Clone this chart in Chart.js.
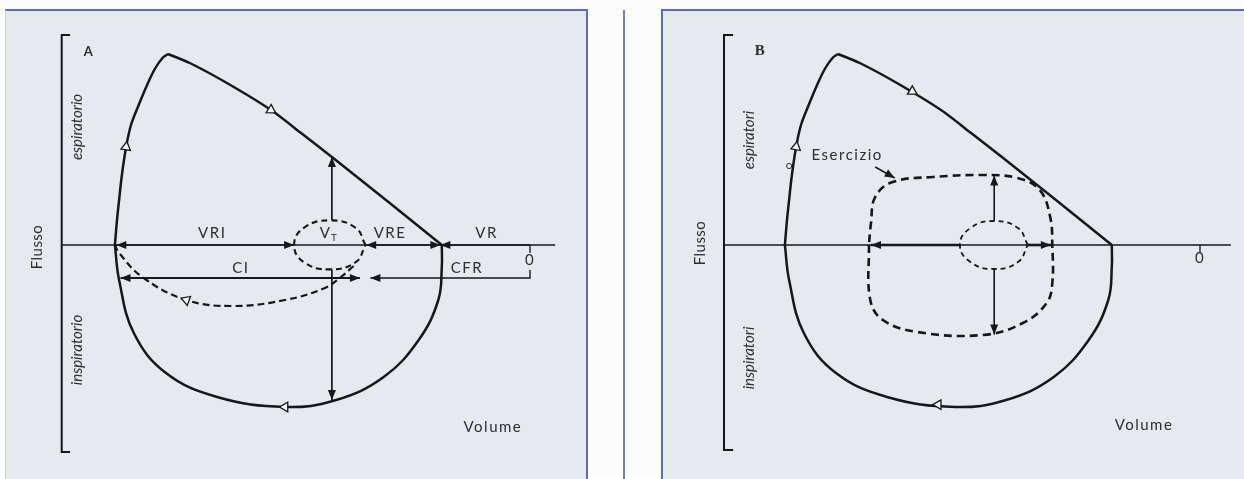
<!DOCTYPE html>
<html>
<head>
<meta charset="utf-8">
<script src="https://cdn.jsdelivr.net/npm/chart.js@4.4.1/dist/chart.umd.min.js"></script>
<style>
  body { margin: 0; width: 1244px; height: 479px; overflow: hidden; background: #fcfcfd; position: relative; }
  .frame { position: absolute; top: 9px; height: 480px; background: #e6e9ee; border-top: 2px solid #5d6db0; }
  #frameA { left: 5px; width: 580px; border-right: 2px solid #5d6db0; border-left: 1px solid #c8cede; }
  #frameB { left: 661px; width: 590px; border-left: 2px solid #5d6db0; }
  #gutter { position: absolute; left: 623px; top: 10px; width: 2px; height: 469px; background: #7482bc; }
  canvas { position: absolute; top: 0; }
  #chartA { left: 5px; }
  #chartB { left: 675px; }
</style>
</head>
<body>
<div class="frame" id="frameA"></div>
<div id="gutter"></div>
<div class="frame" id="frameB"></div>
<canvas id="chartA" width="616" height="479"></canvas>
<canvas id="chartB" width="567" height="479"></canvas>
<script>
// flow-volume loop (volume in L, 0 at the right; flow in L/s, expiration up)
const riseVol  = [5.93, 5.90, 5.87, 5.83, 5.77, 5.70, 5.59, 5.47, 5.36, 5.25, 5.17];
const riseFlow = [0, 1.25, 2.25, 3.5, 4.9, 6.0, 7.0, 8.0, 8.8, 9.35, 9.55];
const fallVol  = [5.17, 4.86, 4.33, 3.70, 3.27, 2.83, 2.04, 1.26];
const fallFlow = [9.55, 9.1, 8.1, 6.75, 5.6, 4.4, 2.2, 0];
const inspVol  = [1.26, 1.26, 1.31, 1.59, 2.09, 2.77, 3.50, 4.47, 5.20, 5.66, 5.87, 5.93];
const inspFlow = [0, -1.1, -2.75, -4.75, -6.6, -7.75, -8.1, -7.6, -6.4, -4.4, -1.75, 0];

// panel A: tidal loop and inspiratory capacity manoeuvre
const tidalVolA  = [2.35, 2.49, 2.86, 3.23, 3.37, 3.23, 2.86, 2.49, 2.35];
const tidalFlowA = [0, 0.86, 1.23, 0.86, 0, -0.86, -1.22, -0.86, 0];
const icVol  = [2.52, 2.70, 2.93, 3.50, 4.24, 4.91, 5.54, 5.87, 5.93];
const icFlow = [-1.05, -1.6, -2.15, -2.75, -3.05, -2.75, -1.6, -0.4, 0];

// panel B: rest and exercise loops
const tidalVolB  = [2.46, 2.60, 2.94, 3.28, 3.43, 3.28, 2.94, 2.60, 2.46];
const tidalFlowB = [0, 0.85, 1.2, 0.85, 0, -0.85, -1.2, -0.85, 0];
const exVol  = [4.73, 4.71, 4.53, 4.04, 3.10, 2.53, 2.19, 2.11, 2.11, 2.14, 2.29, 2.61, 3.10, 3.81, 4.39, 4.64, 4.70, 4.73];
const exFlow = [0, -2.75, -3.75, -4.35, -4.5, -3.9, -2.9, -1.9, 0, 1.4, 2.75, 3.35, 3.5, 3.4, 3.15, 2.4, 1.1, 0];

// dimension arrows: volumes / flows along each arrow, and where the heads go
const dimVolA  = [[3.37, 5.91], [2.34, 1.28], [1.28, 0], [5.85, 2.43], [2.28, 0, 0], [2.83, 2.83], [2.83, 2.83]];
const dimFlowA = [[0, 0], [0, 0], [0, 0], [-1.65, -1.65], [-1.65, -1.65, -1.25], [1.25, 4.4], [-1.22, -7.75]];
const dimHeadA = ['both', 'both', 'start', 'both', 'start', 'end', 'end'];
const dimVolB  = [[3.43, 4.70], [2.46, 2.13], [2.94, 2.94], [2.94, 2.94], [4.64, 4.36]];
const dimFlowB = [[0, 0], [0, 0], [1.2, 3.47], [-1.2, -4.47], [3.9, 3.35]];
const dimHeadB = ['end', 'end', 'end', 'end', 'end'];

// direction markers (open triangles)
const markVolA  = [5.77, 3.70, 3.50, 4.91];
const markFlowA = [4.9, 6.75, -8.1, -2.75];
const markRotA  = [8, 122, 270, 290];
const markVolB  = [5.77, 4.11, 3.74];
const markFlowB = [4.9, 7.68, -7.98];
const markRotB  = [10, 120, 270];

// axis frame: bracket on the left, volume axis, zero tick
const bracketVolA  = [6.57, 6.69, 6.69, 6.57];
const bracketFlowA = [10.5, 10.5, -10.35, -10.35];
const axisVolA = [6.69, -0.36];
const bracketVolB  = [6.67, 6.80, 6.80, 6.67];
const bracketFlowB = [10.5, 10.5, -10.25, -10.25];
const axisVolB = [6.80, -0.44];

// labels
const labelTextA = ['VRI', 'VRE', 'VR', 'CI', 'CFR', '0', 'Volume'];
const labelVolA  = [4.54, 2.0, 0.62, 4.13, 0.9, 0, 0.53];
const labelFlowA = [0.6, 0.6, 0.6, -1.15, -1.15, -0.75, -9.1];
const sideTextA = ['espiratorio', 'Flusso', 'inspiratorio'];
const sideVolA  = [6.47, 7.04, 6.47];
const sideFlowA = [5.9, -0.1, -5.25];
const labelTextB = ['Esercizio', '0', 'Volume'];
const labelVolB  = [5.04, 0, 0.8];
const labelFlowB = [4.5, -0.65, -9.0];
const sideTextB = ['espiratori', 'Flusso', 'inspiratori'];
const sideVolB  = [6.44, 7.14, 6.44];
const sideFlowB = [5.25, 0.1, -5.65];

const INK = '#171717';
const TEXT = '#2e2e2e';

const xy = (vols, flows) => vols.map((v, i) => ({x: v, y: flows[i]}));
const line = (vols, flows, extra) => Object.assign({
  data: xy(vols, flows), showLine: true, borderColor: INK, borderWidth: 2.5,
  pointRadius: 0, tension: 0, fill: false
}, extra);

const arrowHeads = {
  id: 'arrowHeads',
  afterDatasetsDraw(chart) {
    const ctx = chart.ctx;
    chart.data.datasets.forEach((ds, i) => {
      if (!ds.heads) return;
      const pts = chart.getDatasetMeta(i).data;
      const n = pts.length;
      const tips = [];
      if (ds.heads !== 'end') tips.push([pts[0], pts[1]]);
      if (ds.heads !== 'start') tips.push([pts[n - 1], pts[n - 2]]);
      tips.forEach(([tip, from]) => {
        const a = Math.atan2(tip.y - from.y, tip.x - from.x);
        ctx.save();
        ctx.translate(tip.x, tip.y);
        ctx.rotate(a);
        ctx.beginPath();
        ctx.moveTo(0, 0);
        ctx.lineTo(-10, -4);
        ctx.lineTo(-10, 4);
        ctx.closePath();
        ctx.fillStyle = INK;
        ctx.fill();
        ctx.restore();
      });
    });
  }
};

function textPlugin(items) {
  return {
    id: 'figText',
    afterDatasetsDraw(chart) {
      const {ctx} = chart;
      const sx = chart.scales.x, sy = chart.scales.y;
      items.forEach(it => {
        ctx.save();
        ctx.translate(sx.getPixelForValue(it.v), sy.getPixelForValue(it.f));
        if (it.rot) ctx.rotate(-Math.PI / 2);
        ctx.font = it.font;
        ctx.letterSpacing = it.spacing || '0px';
        ctx.fillStyle = TEXT;
        ctx.textAlign = 'center';
        ctx.textBaseline = 'middle';
        ctx.fillText(it.text, 0, 0);
        if (it.sub) {
          ctx.font = '10px Lato';
          ctx.fillText(it.sub, 9, 5);
        }
        ctx.restore();
      });
    }
  };
}

function textItems(texts, vols, flows, side, letter, letterVol, letterFlow, letterFont) {
  const items = texts.map((t, i) => ({text: t, v: vols[i], f: flows[i], font: '15px Lato', spacing: '1.5px'}));
  side.texts.forEach((t, i) => items.push({
    text: t, v: side.vols[i], f: side.flows[i], rot: true,
    font: t === 'Flusso' ? '15px Lato' : 'italic 15px Lato', spacing: t === 'Flusso' ? '0.5px' : '0px'
  }));
  items.push({text: letter, v: letterVol, f: letterFlow, font: letterFont});
  return items;
}

function dimSets(vols, flows, heads, widths) {
  return vols.map((v, i) => line(v, flows[i], {heads: heads[i], borderWidth: widths[i]}));
}

function makeChart(id, xmin, sets, items) {
  return new Chart(document.getElementById(id), {
    type: 'scatter',
    data: {datasets: sets},
    options: {
      responsive: false,
      animation: false,
      events: [],
      layout: {padding: 0, autoPadding: false},
      scales: {
        x: {type: 'linear', min: xmin, max: 7.5, reverse: true, display: false},
        y: {type: 'linear', min: -11.7, max: 12.25, display: false}
      },
      plugins: {legend: {display: false}, tooltip: {enabled: false}}
    },
    plugins: [arrowHeads, textPlugin(items)]
  });
}

const markerSet = (vols, flows, rots) => ({
  data: xy(vols, flows), showLine: false, pointStyle: 'triangle', pointRadius: 5.5,
  pointRotation: rots, pointBackgroundColor: '#ffffff', pointBorderColor: INK, pointBorderWidth: 1.3
});

const loopSets = () => [
  line(riseVol, riseFlow, {tension: 0.35}),
  line(fallVol, fallFlow, {tension: 0.25}),
  line(inspVol, inspFlow, {tension: 0.4})
];

const itemsA = textItems(labelTextA, labelVolA, labelFlowA,
  {texts: sideTextA, vols: sideVolA, flows: sideFlowA}, 'A', 6.31, 9.65, 'bold 13px Lato');
itemsA.push({text: 'V', sub: 'T', v: 2.93, f: 0.6, font: '15px Lato'});

makeChart('chartA', -1.3, [
  markerSet(markVolA, markFlowA, markRotA),
  ...loopSets(),
  line(tidalVolA, tidalFlowA, {tension: 0.45, borderWidth: 2.1, borderDash: [6, 4]}),
  line(icVol, icFlow, {tension: 0.4, borderWidth: 2.2, borderDash: [7, 4]}),
  ...dimSets(dimVolA, dimFlowA, dimHeadA, [1.5, 1.5, 1.5, 1.8, 1.4, 1.7, 1.7]),
  line(bracketVolA, bracketFlowA, {borderWidth: 2}),
  line(axisVolA, [0, 0], {borderWidth: 1.3}),
  line([0, 0], [0, -0.4], {borderWidth: 1.3})
], itemsA);

const itemsB = textItems(labelTextB, labelVolB, labelFlowB,
  {texts: sideTextB, vols: sideVolB, flows: sideFlowB}, 'B', 6.29, 9.7, 'bold 15px "Liberation Serif"');

makeChart('chartB', -0.6, [
  markerSet(markVolB, markFlowB, markRotB),
  {data: xy([5.87], [3.95]), showLine: false, pointStyle: 'circle', pointRadius: 2.6,
   pointBackgroundColor: 'rgba(0,0,0,0)', pointBorderColor: TEXT, pointBorderWidth: 1},
  ...loopSets(),
  line(tidalVolB, tidalFlowB, {tension: 0.45, borderWidth: 1.8, borderDash: [5, 4]}),
  line(exVol, exFlow, {tension: 0.4, borderWidth: 2.6, borderDash: [8, 5]}),
  ...dimSets(dimVolB, dimFlowB, dimHeadB, [2.6, 2.6, 1.6, 1.6, 1.5]),
  line(bracketVolB, bracketFlowB, {borderWidth: 2}),
  line(axisVolB, [0, 0], {borderWidth: 1.3}),
  line([0, 0], [0, -0.4], {borderWidth: 1.3})
], itemsB);
</script>
</body>
</html>
